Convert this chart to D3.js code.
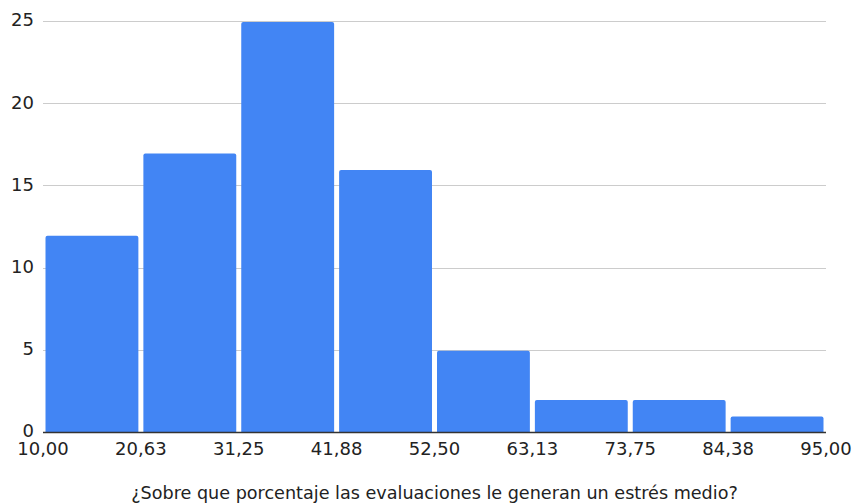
<!DOCTYPE html>
<html>
<head>
<meta charset="utf-8">
<script src="https://cdn.jsdelivr.net/npm/d3@7"></script>
<style>
  html, body { margin: 0; padding: 0; background: #fff; }
  svg { display: block; font-family: "DejaVu Sans", sans-serif; }
</style>
</head>
<body>
<svg id="chart" width="856" height="504"></svg>
<script>
// Histogram bins (edges) and counts per bin
const binEdges = [10.00, 20.625, 31.25, 41.875, 52.50, 63.125, 73.75, 84.375, 95.00];
const binCounts = [12, 17, 25, 16, 5, 2, 2, 1];
const yTicks = [0, 5, 10, 15, 20, 25];
const xTitle = "¿Sobre que porcentaje las evaluaciones le generan un estrés medio?";

const svg = d3.select("#chart");
const margin = { left: 43, right: 30, top: 21, bottom: 72 };
const W = 856, H = 504;

const x = d3.scaleLinear().domain([binEdges[0], binEdges[binEdges.length - 1]])
  .range([margin.left, W - margin.right]);
const y = d3.scaleLinear().domain([0, 25]).range([H - margin.bottom, margin.top]);

const fmt = v => d3.format(".2f")(v).replace(".", ",");

// horizontal gridlines
svg.append("g").selectAll("line").data(yTicks.filter(d => d > 0)).join("line")
  .attr("x1", x.range()[0]).attr("x2", x.range()[1])
  .attr("y1", d => Math.round(y(d)) + 0.5).attr("y2", d => Math.round(y(d)) + 0.5)
  .attr("stroke", "#cccccc").attr("stroke-width", 1);

// y tick labels
svg.append("g").selectAll("text").data(yTicks).join("text")
  .attr("x", 34).attr("y", d => y(d) - 1)
  .attr("dy", "0.35em").attr("text-anchor", "end")
  .attr("font-size", 18).attr("fill", "#222")
  .text(d => d);

// bars
const bins = binCounts.map((c, i) => ({ x0: binEdges[i], x1: binEdges[i + 1], count: c }));
const inset = 2.5;
svg.append("g").selectAll("path").data(bins).join("path")
  .attr("fill", "#4285f4")
  .attr("d", d => {
    const l = x(d.x0) + inset, r = x(d.x1) - inset;
    const t = y(d.count) + 1, b = y(0);
    const rr = 2;
    return `M${l},${b}V${t + rr}Q${l},${t} ${l + rr},${t}H${r - rr}Q${r},${t} ${r},${t + rr}V${b}Z`;
  });

// baseline axis
svg.append("line")
  .attr("x1", x.range()[0]).attr("x2", x.range()[1])
  .attr("y1", y(0) + 0.5).attr("y2", y(0) + 0.5)
  .attr("stroke", "#333").attr("stroke-width", 1.3);

// x tick labels at bin edges
svg.append("g").selectAll("text").data(binEdges).join("text")
  .attr("x", d => x(d)).attr("y", y(0) + 23)
  .attr("text-anchor", "middle")
  .attr("font-size", 18).attr("fill", "#222")
  .text(d => fmt(d));

// x axis title
svg.append("text")
  .attr("x", (x.range()[0] + x.range()[1]) / 2).attr("y", 499)
  .attr("text-anchor", "middle")
  .attr("font-size", 17.6).attr("fill", "#222")
  .text(xTitle);
</script>
</body>
</html>
